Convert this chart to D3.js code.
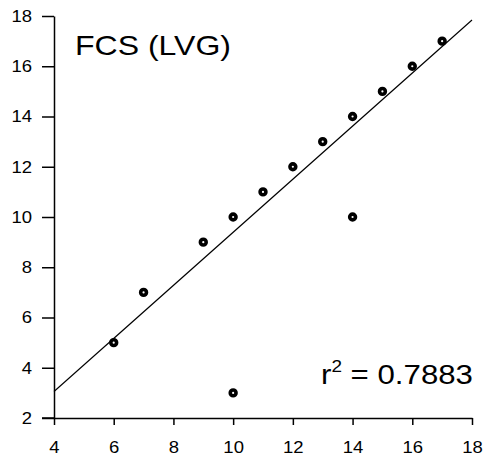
<!DOCTYPE html>
<html><head><meta charset="utf-8">
<script src="https://cdn.jsdelivr.net/npm/d3@7"></script>
<style>body{margin:0;background:#fff;} text{font-family:"Liberation Sans",Arial,sans-serif;fill:#000;}</style>
</head><body>
<svg id="c" width="486" height="462"></svg>
<script>
const xs = [6, 7, 9, 10, 11, 12, 13, 14, 15, 16, 17, 14, 10];
const ys = [5, 7, 9, 10, 11, 12, 13, 14, 15, 16, 17, 10, 3];
const xTicks = [4, 6, 8, 10, 12, 14, 16, 18];
const yTicks = [2, 4, 6, 8, 10, 12, 14, 16, 18];
const fitSlope = 1.056, fitIntercept = -1.17;
const title = "FCS (LVG)";
const r2 = "0.7883";

const stretch = 1.12;
function widen(sel) {
  sel.each(function () {
    const w = this.getComputedTextLength();
    d3.select(this).attr("textLength", w * stretch).attr("lengthAdjust", "spacingAndGlyphs");
  });
}

const svg = d3.select("#c");
const x = d3.scaleLinear().domain([4, 18]).range([54, 472]);
const y = d3.scaleLinear().domain([2, 18]).range([418, 16]);

const ya = svg.append("g").attr("transform", "translate(54,0)")
  .call(d3.axisLeft(y).tickValues(yTicks).tickSize(12).tickPadding(10).tickSizeOuter(0));
const xa = svg.append("g").attr("transform", "translate(0,418)")
  .call(d3.axisBottom(x).tickValues(xTicks).tickSize(7).tickPadding(16).tickSizeOuter(0));
[ya, xa].forEach(g => {
  g.select(".domain").attr("stroke", "#000").attr("stroke-width", 1.5);
  g.selectAll(".tick line").attr("stroke", "#000").attr("stroke-width", 1.5);
  g.selectAll(".tick text").attr("font-size", 16.5).attr("font-family", "Liberation Sans, Arial, sans-serif").attr("fill", "#000").call(widen);
});
svg.append("line").attr("x1", 42).attr("x2", 54).attr("y1", 418).attr("y2", 418)
  .attr("stroke", "#000").attr("stroke-width", 1.5);

svg.append("line")
  .attr("x1", x(4)).attr("y1", y(fitSlope * 4 + fitIntercept))
  .attr("x2", x(18)).attr("y2", y(fitSlope * 18 + fitIntercept))
  .attr("stroke", "#000").attr("stroke-width", 1.2);

svg.append("g").selectAll("circle").data(xs.map((d, i) => [d, ys[i]])).join("circle")
  .attr("cx", d => x(d[0])).attr("cy", d => y(d[1])).attr("r", 2.9)
  .attr("fill", "#fff").attr("stroke", "#000").attr("stroke-width", 3.6);

svg.append("text").attr("x", 75).attr("y", 55).attr("font-size", 28)
  .attr("textLength", 156).attr("lengthAdjust", "spacingAndGlyphs").text(title);

const t = svg.append("text").attr("x", 321).attr("y", 384).attr("font-size", 28)
  .attr("textLength", 152).attr("lengthAdjust", "spacingAndGlyphs");
t.append("tspan").text("r");
t.append("tspan").attr("font-size", 17).attr("dy", -12).text("2");
t.append("tspan").attr("dy", 12).text(" = " + r2);
</script>
</body></html>
